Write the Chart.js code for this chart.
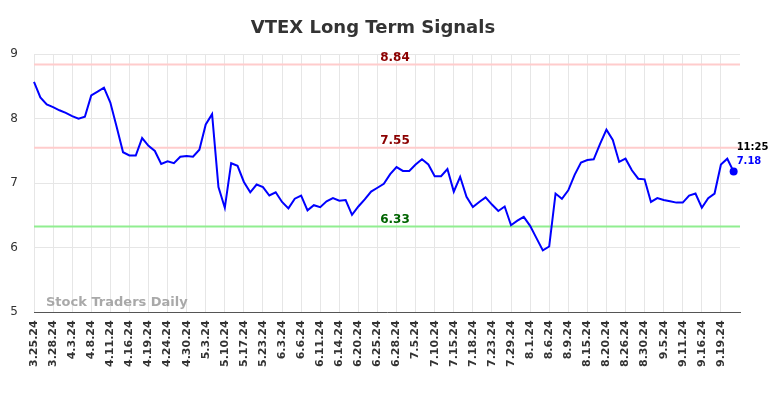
<!DOCTYPE html>
<html>
<head>
<meta charset="utf-8">
<script src="https://cdn.jsdelivr.net/npm/chart.js@4/dist/chart.umd.min.js"></script>
<style>
  html, body { margin: 0; padding: 0; background: #ffffff; }
  #wrap { width: 784px; height: 398px; position: relative; }
</style>
</head>
<body>
<div id="wrap"><canvas id="c" width="784" height="398"></canvas></div>
<script>
const chartTitle = "VTEX Long Term Signals";
const tickLabels = ["3.25.24","3.28.24","4.3.24","4.8.24","4.11.24","4.16.24","4.19.24","4.24.24","4.30.24","5.3.24","5.10.24","5.17.24","5.23.24","6.3.24","6.6.24","6.11.24","6.14.24","6.20.24","6.25.24","6.28.24","7.5.24","7.10.24","7.15.24","7.18.24","7.23.24","7.29.24","8.1.24","8.6.24","8.9.24","8.15.24","8.20.24","8.26.24","8.30.24","9.5.24","9.11.24","9.16.24","9.19.24"];
const tickEvery = 3;
const prices = [
  8.57, 8.33, 8.22, 8.18, 8.13, 8.09, 8.04, 8.00, 8.03, 8.36, 8.42, 8.48, 8.25, 7.87, 7.48, 7.43, 7.43, 7.70, 7.58, 7.50,
  7.30, 7.34, 7.31, 7.41, 7.42, 7.41, 7.52, 7.91, 8.07, 6.94, 6.62, 7.31, 7.27, 7.02, 6.86, 6.98,
  6.94, 6.81, 6.86, 6.71, 6.61, 6.76, 6.81, 6.58, 6.66, 6.63, 6.72, 6.77, 6.73, 6.74, 6.51, 6.64, 6.75, 6.87, 6.93, 6.99,
  7.14, 7.25, 7.19, 7.19, 7.29, 7.37, 7.29, 7.11, 7.11, 7.22, 6.87, 7.10, 6.79, 6.63, 6.71, 6.78, 6.67, 6.57, 6.64,
  6.35, 6.42, 6.48, 6.34, 6.15, 5.96, 6.02, 6.84, 6.76, 6.89, 7.13, 7.32, 7.36, 7.37, 7.61, 7.83, 7.67, 7.33, 7.38, 7.20,
  7.07, 7.06, 6.71, 6.77, 6.74, 6.72, 6.70, 6.70, 6.81, 6.84, 6.62, 6.77, 6.84, 7.29, 7.38, 7.18
];
const signalLevels = [8.84, 7.55, 6.33];
const signalLineColors = ["#ffcccc", "#ffcccc", "#90ee90"];
const signalTextColors = ["#8b0000", "#8b0000", "#006400"];
const lastTime = "11:25";
const watermark = "Stock Traders Daily";
const yTicks = [5, 6, 7, 8, 9];

// one spare empty category slot at the right edge, as in the original
const labels = prices.concat([null]).map((_, i) => (i % tickEvery === 0 ? (tickLabels[i / tickEvery] || "") : ""));

const overlay = {
  id: "overlay",
  beforeDatasetsDraw(chart) {
    const { ctx, chartArea, scales } = chart;
    ctx.save();
    signalLevels.forEach((lv, k) => {
      const y = scales.y.getPixelForValue(lv);
      ctx.strokeStyle = signalLineColors[k];
      ctx.lineWidth = 2;
      ctx.beginPath();
      ctx.moveTo(chartArea.left, y);
      ctx.lineTo(chartArea.right, y);
      ctx.stroke();
    });
    ctx.restore();
  },
  afterDatasetsDraw(chart) {
    const { ctx, chartArea, scales } = chart;
    ctx.save();
    ctx.font = "bold 12px 'DejaVu Sans'";
    ctx.textAlign = "center";
    ctx.textBaseline = "bottom";
    const cx = (chartArea.left + chartArea.right) / 2 + 8;
    signalLevels.forEach((lv, k) => {
      const y = scales.y.getPixelForValue(lv);
      ctx.fillStyle = signalTextColors[k];
      ctx.fillText(lv.toFixed(2), cx, y - 1);
    });
    // watermark
    ctx.font = "bold 13px 'DejaVu Sans'";
    ctx.fillStyle = "rgba(160,160,160,0.9)";
    ctx.textAlign = "left";
    ctx.textBaseline = "alphabetic";
    ctx.fillText(watermark, chartArea.left + 12, chartArea.bottom - 6);
    // last value annotation
    const li = prices.length - 1;
    const px = scales.x.getPixelForValue(li);
    const py = scales.y.getPixelForValue(prices[li]);
    ctx.font = "bold 10px 'DejaVu Sans'";
    ctx.textAlign = "left";
    ctx.textBaseline = "middle";
    ctx.fillStyle = "#000000";
    ctx.fillText(lastTime, px + 3, py - 24);
    ctx.fillStyle = "#0000ff";
    ctx.fillText(prices[li].toFixed(2), px + 3, py - 10);
    ctx.restore();
  }
};

new Chart(document.getElementById("c"), {
  type: "line",
  data: {
    labels: labels,
    datasets: [{
      data: prices,
      borderColor: "#0000ff",
      backgroundColor: "#0000ff",
      borderWidth: 2,
      tension: 0,
      fill: false,
      pointRadius: (c) => (c.dataIndex === prices.length - 1 ? 4 : 0),
      pointHoverRadius: 0,
      pointBackgroundColor: "#0000ff",
      pointBorderWidth: 0
    }]
  },
  options: {
    responsive: false,
    animation: false,
    devicePixelRatio: 1,
    layout: { padding: { left: 6, right: 44, top: 8, bottom: 23 } },
    plugins: {
      legend: { display: false },
      tooltip: { enabled: false },
      title: {
        display: true,
        text: chartTitle,
        color: "#333333",
        font: { family: "'DejaVu Sans'", size: 18, weight: "bold" },
        padding: { top: 10, bottom: 14.5 }
      }
    },
    scales: {
      x: {
        type: "category",
        grid: { color: "#e6e6e6", lineWidth: 1, drawTicks: false },
        border: { display: true, color: "#555555", width: 1 },
        afterFit: (s) => { s.paddingLeft = 0; s.paddingRight = 0; },
        ticks: {
          autoSkip: false,
          maxRotation: 90,
          minRotation: 90,
          padding: 8,
          color: "#333333",
          font: { family: "'DejaVu Sans'", size: 11, weight: "bold" },
          callback: function (val, i) {
            return i % tickEvery === 0 && this.getLabelForValue(val) ? this.getLabelForValue(val) : null;
          }
        }
      },
      y: {
        min: yTicks[0],
        max: yTicks[yTicks.length - 1],
        grid: { color: "#e6e6e6", lineWidth: 1, drawTicks: false },
        border: { display: false },
        afterBuildTicks: (s) => { s.ticks = yTicks.map(v => ({ value: v })); },
        afterFit: (s) => { s.width = 28; },
        ticks: {
          padding: 16,
          color: "#333333",
          font: { family: "'DejaVu Sans'", size: 12 }
        }
      }
    }
  },
  plugins: [overlay]
});
</script>
</body>
</html>
